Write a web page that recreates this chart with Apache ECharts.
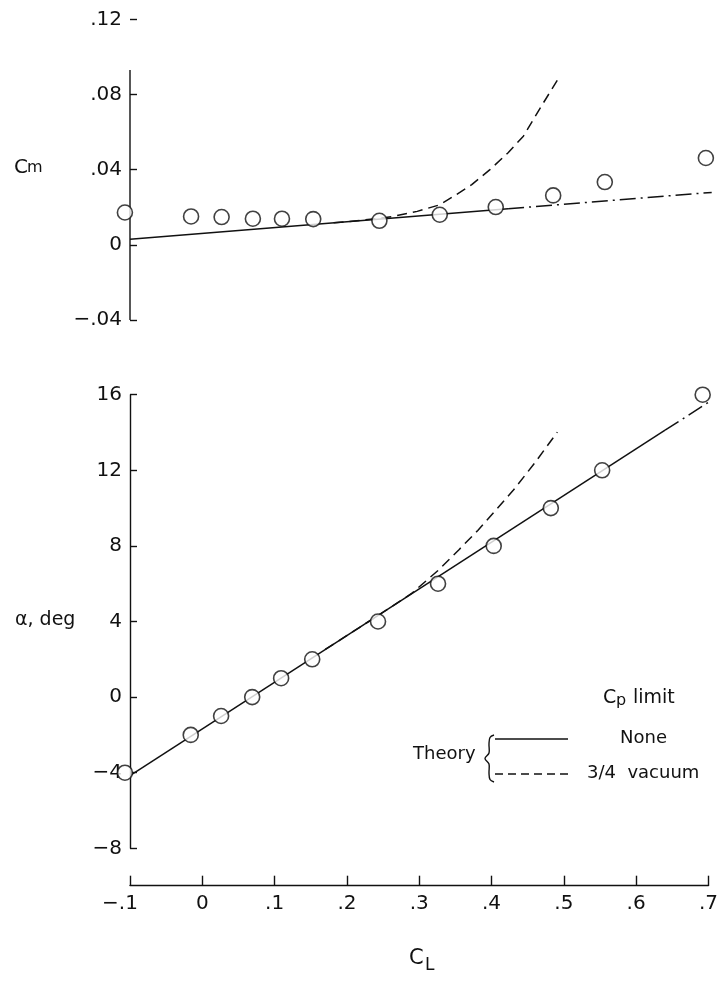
<!DOCTYPE html>
<html>
<head>
<meta charset="utf-8">
<script src="https://cdn.jsdelivr.net/npm/echarts@6/dist/echarts.min.js"></script>
<style>
  html, body { margin: 0; padding: 0; background: #ffffff; }
  #chart { width: 721px; height: 982px; }
</style>
</head>
<body>
<div id="chart"></div>
<script>
// Test points: lift coefficient, angle of attack (deg) and pitching moment
const clTest    = [-0.107, -0.016, 0.026, 0.069, 0.109, 0.152, 0.243, 0.326, 0.403, 0.482, 0.553, 0.692];
const alphaTest = [-4, -2, -1, 0, 1, 2, 4, 6, 8, 10, 12, 16];
const cmTest    = [0.0172, 0.0151, 0.0148, 0.0139, 0.0139, 0.0137, 0.0128, 0.0160, 0.0201, 0.0263, 0.0334, 0.0462];

// Theory, no Cp limit: solid part and dash-dot continuation
const cmNoneCL      = [-0.1, 0.42];
const cmNone        = [0.003, 0.0192];
const cmNoneTailCL  = [0.42, 0.7];
const cmNoneTail    = [0.0192, 0.0279];
const alphaNoneCL     = [-0.1, 0.64];
const alphaNone       = [-4.15, 14.12];
const alphaNoneTailCL = [0.64, 0.7];
const alphaNoneTail   = [14.12, 15.6];

// Theory, Cp limited to 3/4 vacuum
const cmVacCL = [0.18, 0.22, 0.26, 0.295, 0.326, 0.345, 0.37, 0.395, 0.42, 0.441, 0.465, 0.489];
const cmVac   = [0.0117, 0.0131, 0.0150, 0.0178, 0.0213, 0.0258, 0.032, 0.040, 0.049, 0.0578, 0.0733, 0.0884];
const alphaVacCL = [0.17, 0.22, 0.26, 0.29, 0.326, 0.355, 0.381, 0.405, 0.43, 0.46, 0.491];
const alphaVac   = [2.52, 3.75, 4.74, 5.5, 6.7, 7.8, 8.82, 9.85, 10.94, 12.4, 14.02];

// Tick labels
const clTicks    = ['\u2212.1', '0', '.1', '.2', '.3', '.4', '.5', '.6', '.7'];
const cmTicks    = ['\u2212.04', '0', '.04', '.08', '.12'];
const alphaTicks = ['\u22128', '\u22124', '0', '4', '8', '12', '16'];

// Extent of the drawn Cm axis line
const cmAxisCL = [-0.1, -0.1];
const cmAxisSpan = [-0.04, 0.093];

const pairs = (xs, ys) => xs.map((x, i) => [x, ys[i]]);
const tickIndex = (v, min, step) => Math.round((v - min) / step);

const INK = '#111111';
const FONT = 'DejaVu Sans';

const axisText = { color: INK, fontFamily: FONT, fontSize: 20 };
const tickStyle = { color: INK, width: 1.4 };

const chart = echarts.init(document.getElementById('chart'));

function lineSeries(xi, data, type, width) {
  return {
    type: 'line', xAxisIndex: xi, yAxisIndex: xi, data: data,
    symbol: 'none', silent: true, clip: false, z: 2,
    lineStyle: { color: INK, width: width || 1.5, type: type || 'solid' }
  };
}

function pointSeries(xi, data) {
  return {
    type: 'scatter', xAxisIndex: xi, yAxisIndex: xi, data: data,
    symbol: 'circle', symbolSize: 15, clip: false, silent: true, z: 5,
    itemStyle: { color: '#ffffff', borderColor: INK, borderWidth: 1.6 }
  };
}

const dashDot = [16, 5, 2, 5];
const dashed = [10, 6];

function label(x, y, text, size) {
  return { type: 'text', x: x, y: y, silent: true,
    style: { text: text, fill: INK, font: size + 'px "DejaVu Sans"', verticalAlign: 'top', align: 'left' } };
}

const option = {
  animation: false,
  backgroundColor: '#ffffff',
  grid: [
    { left: 130, right: 9.3, top: 19.3, height: 300.7 },
    { left: 130, right: 9.3, top: 394.7, height: 453.6 }
  ],
  xAxis: [
    { gridIndex: 0, type: 'value', min: -0.1, max: 0.7, interval: 0.1, show: false },
    {
      gridIndex: 1, type: 'value', min: -0.1, max: 0.7, interval: 0.1,
      position: 'bottom', offset: 37.4,
      axisLine: { show: true, onZero: false, lineStyle: tickStyle },
      axisTick: { show: true, inside: true, length: 10, lineStyle: tickStyle },
      splitLine: { show: false },
      axisLabel: {
        show: true, margin: 8, ...axisText,
        formatter: function (v) {
          const i = tickIndex(v, -0.1, 0.1);
          return i === 0 ? '{neg|' + clTicks[i] + '}' : clTicks[i];
        },
        rich: { neg: { ...axisText, padding: [0, 20, 0, 0] } }
      }
    }
  ],
  yAxis: [
    {
      gridIndex: 0, type: 'value', min: -0.04, max: 0.12, interval: 0.04,
      position: 'left',
      axisLine: { show: false, onZero: false },
      axisTick: { show: true, inside: true, length: 7, lineStyle: tickStyle },
      splitLine: { show: false },
      axisLabel: {
        show: true, margin: 8, ...axisText,
        formatter: v => cmTicks[tickIndex(v, -0.04, 0.04)]
      }
    },
    {
      gridIndex: 1, type: 'value', min: -8, max: 16, interval: 4,
      position: 'left',
      axisLine: { show: true, onZero: false, lineStyle: tickStyle },
      axisTick: { show: true, inside: true, length: 7, lineStyle: tickStyle },
      splitLine: { show: false },
      axisLabel: {
        show: true, margin: 8, ...axisText,
        formatter: v => alphaTicks[tickIndex(v, -8, 4)]
      }
    }
  ],
  series: [
    // Cm panel
    lineSeries(0, pairs(cmAxisCL, cmAxisSpan), 'solid', 1.4),
    lineSeries(0, pairs(cmNoneCL, cmNone)),
    lineSeries(0, pairs(cmNoneTailCL, cmNoneTail), dashDot),
    lineSeries(0, pairs(cmVacCL, cmVac), dashed),
    pointSeries(0, pairs(clTest, cmTest)),
    // alpha panel
    lineSeries(1, pairs(alphaNoneCL, alphaNone)),
    lineSeries(1, pairs(alphaNoneTailCL, alphaNoneTail), dashDot),
    lineSeries(1, pairs(alphaVacCL, alphaVac), dashed),
    pointSeries(1, pairs(clTest, alphaTest))
  ],
  graphic: [
    // axis titles
    label(14, 158, 'C', 20),
    label(27, 160, 'm', 16),
    label(15, 611, '\u03b1, deg', 19),
    label(409, 948, 'C', 21),
    label(425, 957, 'L', 17),
    // key
    label(603, 689, 'C', 19),
    label(616, 693, 'p', 16),
    label(633, 689, 'limit', 19),
    label(620, 729, 'None', 18),
    label(587, 764, '3/4  vacuum', 18),
    label(413, 745, 'Theory', 18),
    {
      type: 'polyline', silent: true,
      shape: {
        points: [[494, 735], [490, 737.5], [489, 744], [489, 753], [485, 758.5],
                 [489, 764], [489, 773], [490, 779.5], [494, 782]],
        smooth: 0.35
      },
      style: { fill: 'none', stroke: INK, lineWidth: 1.4 }
    },
    { type: 'line', silent: true, shape: { x1: 495, y1: 739, x2: 568, y2: 739 }, style: { stroke: INK, lineWidth: 1.5 } },
    { type: 'line', silent: true, shape: { x1: 495, y1: 774, x2: 568, y2: 774 }, style: { stroke: INK, lineWidth: 1.5, lineDash: [8, 5] } }
  ]
};

chart.setOption(option);
</script>
</body>
</html>
